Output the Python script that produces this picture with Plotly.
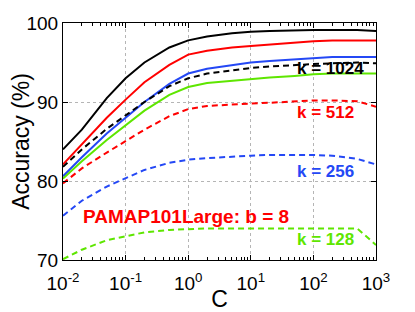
import plotly.graph_objects as go

C = [0.01, 0.02, 0.05, 0.1, 0.2, 0.5, 1, 2, 5, 10, 20, 50, 100, 200, 500, 1000]

k1024_full = [84.0, 86.5, 90.5, 93.0, 95.0, 96.9, 97.8, 98.3, 98.7, 98.9, 99.0, 99.1, 99.1, 99.1, 99.1, 99.0]
k512_full = [82.1, 84.7, 88.0, 90.3, 92.5, 94.7, 96.0, 96.5, 96.9, 97.1, 97.3, 97.5, 97.7, 97.8, 97.8, 97.8]
k256_full = [80.6, 83.0, 86.0, 88.0, 90.0, 92.3, 93.6, 94.2, 94.7, 95.0, 95.2, 95.4, 95.6, 95.7, 95.7, 95.7]
k128_full = [80.3, 82.5, 85.2, 87.1, 88.9, 90.9, 91.9, 92.4, 92.7, 92.9, 93.1, 93.3, 93.5, 93.6, 93.6, 93.6]

k1024_b8 = [81.8, 84.0, 86.6, 88.3, 90.0, 92.0, 93.0, 93.6, 94.0, 94.3, 94.5, 94.7, 94.8, 94.9, 95.0, 94.9]
k512_b8 = [79.7, 81.6, 83.6, 85.0, 86.5, 88.2, 89.1, 89.5, 89.7, 89.8, 89.9, 90.1, 90.2, 90.2, 90.1, 89.4]
k256_b8 = [75.6, 77.5, 79.3, 80.4, 81.4, 82.3, 82.7, 82.9, 83.1, 83.2, 83.3, 83.3, 83.3, 83.2, 82.8, 82.1]
k128_b8 = [70.1, 71.3, 72.5, 73.0, 73.5, 73.8, 73.9, 74.0, 74.0, 74.0, 74.0, 74.0, 74.0, 74.0, 74.0, 71.9]

x_tickvals = [0.01, 0.1, 1, 10, 100, 1000]
x_ticktext = ["10<sup>-2</sup>", "10<sup>-1</sup>", "10<sup>0</sup>", "10<sup>1</sup>", "10<sup>2</sup>", "10<sup>3</sup>"]
y_tickvals = [70, 80, 90, 100]
minor_vals = [m * 10 ** e for e in range(-2, 3) for m in range(2, 10)]

BLACK = "#000000"
RED = "#ff0000"
BLUE = "#2448f5"
GREEN = "#5ee600"
DASH = "6px,4px"

series = [
    (k1024_full, BLACK, "solid"),
    (k512_full, RED, "solid"),
    (k256_full, BLUE, "solid"),
    (k128_full, GREEN, "solid"),
    (k1024_b8, BLACK, DASH),
    (k512_b8, RED, DASH),
    (k256_b8, BLUE, DASH),
    (k128_b8, GREEN, DASH),
]

fig = go.Figure()
for ys, col, dash in series:
    fig.add_trace(go.Scatter(x=C, y=ys, mode="lines",
                             line=dict(color=col, width=2, dash=dash),
                             showlegend=False, hoverinfo="skip"))

# invisible trace for minor-tick overlay axis
fig.add_trace(go.Scatter(x=[0.01, 1000], y=[70, 70], xaxis="x2", mode="lines",
                         line=dict(width=0), showlegend=False, hoverinfo="skip"))

FONT = "Liberation Sans, Arial, Helvetica, sans-serif"

# page body adds an 8px offset, so the figure is 407x304
fig.update_layout(
    width=407, height=304,
    margin=dict(l=55, r=39, t=15, b=52),
    paper_bgcolor="white", plot_bgcolor="white",
    font=dict(family=FONT, size=19, color="black"),
    xaxis=dict(type="log", range=[-2, 3], tickvals=x_tickvals, ticktext=x_ticktext,
               ticks="inside", ticklen=5, tickcolor="black",
               showline=True, linecolor="black", linewidth=1, mirror="ticks",
               showgrid=True, gridcolor="#b5b5b5", griddash="dot", gridwidth=1,
               zeroline=False, title=dict(text="C", standoff=0),
               tickfont=dict(size=19), automargin=False, ticklabelstandoff=6),
    xaxis2=dict(type="log", range=[-2, 3], overlaying="x", tickvals=minor_vals,
                ticks="inside", ticklen=3, tickcolor="black", showticklabels=False,
                showgrid=False, mirror="ticks", showline=False, zeroline=False,
                side="bottom", anchor="y", automargin=False),
    yaxis=dict(range=[70, 100], tickvals=y_tickvals,
               ticks="inside", ticklen=5, tickcolor="black",
               showline=True, linecolor="black", linewidth=1, mirror="ticks",
               showgrid=True, gridcolor="#b5b5b5", griddash="dot", gridwidth=1,
               zeroline=False, title=dict(text="Accuracy (%)", standoff=6),
               tickfont=dict(size=19), automargin=False),
)

labels = [
    ("k = 1024", 1.70, 94.24, BLACK, 17),
    ("k = 512", 1.70, 88.65, RED, 17),
    ("k = 256", 1.70, 81.2, BLUE, 17),
    ("k = 128", 1.70, 72.57, GREEN, 17),
    ("PAMAP101Large: b = 8", -1.72, 75.48, RED, 19),
]
for txt, lx, ly, col, sz in labels:
    fig.add_annotation(x=lx, y=ly, xref="x", yref="y", text="<b>" + txt + "</b>",
                       showarrow=False, xanchor="left", yanchor="middle",
                       font=dict(family=FONT, size=sz, color=col))

fig.write_html("out.html")
